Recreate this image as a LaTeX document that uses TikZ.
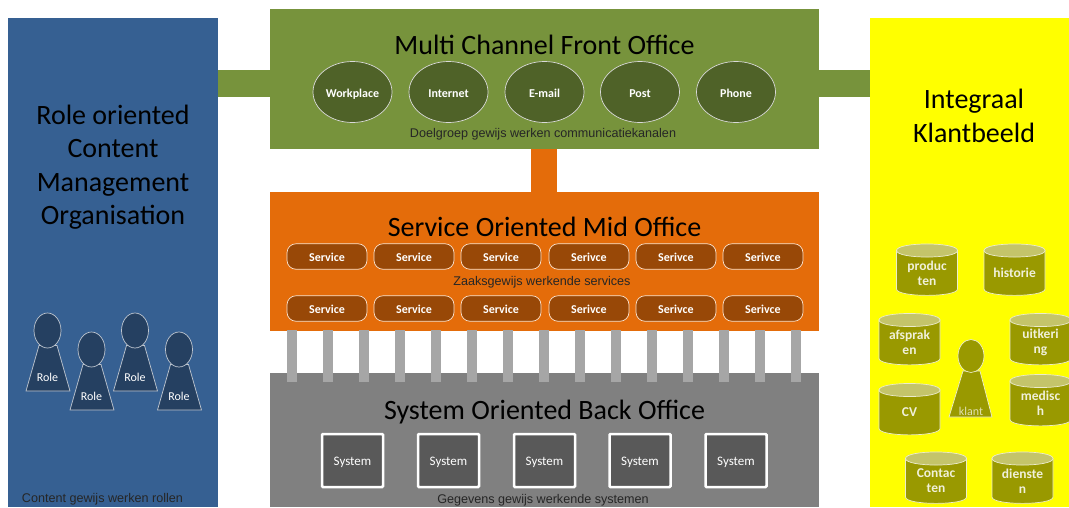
\documentclass[tikz,border=0pt]{standalone}
\usepackage{fontspec}
\setmainfont{Carlito}
\newfontfamily\capfont{Liberation Sans}
\usetikzlibrary{shapes.geometric}
\definecolor{blueP}{HTML}{366092}
\definecolor{greenP}{HTML}{77933C}
\definecolor{greenD}{HTML}{4F6228}
\definecolor{orangeP}{HTML}{E46C0A}
\definecolor{orangeD}{HTML}{984807}
\definecolor{greyP}{HTML}{808080}
\definecolor{greyD}{HTML}{595959}
\definecolor{greyB}{HTML}{A6A6A6}
\definecolor{navy}{HTML}{254061}
\definecolor{olive}{HTML}{999900}
\definecolor{oliveL}{HTML}{C4C46A}
\definecolor{yellowP}{HTML}{FFFF00}
\tikzset{
  x=1pt,y=-1pt,
  title/.style={font=\fontsize{28}{33.5}\selectfont,text=black,align=center,inner sep=0},
  caption/.style={font=\capfont\fontsize{12.6}{14}\selectfont,text=black!85,inner sep=0},
  small/.style={font=\fontsize{12}{14}\selectfont\bfseries,text=white,inner sep=0,text height=12,text depth=2},
  channel/.style={ellipse,draw=white!85!black,line width=.7pt,fill=greenD,minimum width=79,minimum height=61,small},
  servicebox/.style={rounded corners=9pt,rectangle,draw=white!80!orangeP,line width=.7pt,fill=orangeD,minimum width=80,minimum height=25.5,small},
  systembox/.style={rectangle,rounded corners=1pt,draw=white,line width=2.5pt,fill=greyD,minimum width=61,minimum height=53,inner sep=0,font=\fontsize{13}{15}\selectfont,text=white,text height=12,text depth=2},
  storetext/.style={inner sep=0,align=center,font=\fontsize{13.5}{15}\selectfont\bfseries,text=white!85!olive},
  bar/.style={line width=#1,draw=greyB}
}
% #1 name, #2 x, #3 y of head centre, #4 label dy, #5 fill, #6 line, #7 text colour
\newcommand{\pawn}[7]{%
  \draw[draw=#6,fill=#5,line width=.7pt] (#2-8.5,#3+15) -- (#2-21.5,#3+60.5) -- (#2+22.5,#3+60.5) -- (#2+9.5,#3+15) -- cycle;
  \node[ellipse,draw=#6,line width=.7pt,fill=#5,minimum width=27,minimum height=35,inner sep=0] (#1) at (#2,#3) {};
  \node[font=\fontsize{12}{14}\selectfont,text=#7,inner sep=0] (#1l) at (#2,#3+#4) {Role};
}
% #1 name, #2 centre x, #3 top y, #4 label
\newcommand{\storeitem}[4]{%
  \draw[draw=white!80!olive,fill=olive,line width=.7pt] (#2-30.5,#3+6.5) -- (#2-30.5,#3+45) .. controls (#2-30.5,#3+53.5) and (#2+30.5,#3+53.5) .. (#2+30.5,#3+45) -- (#2+30.5,#3+6.5) -- cycle;
  \draw[draw=white!80!olive,fill=oliveL,line width=.7pt] (#2-30.5,#3+6.5) .. controls (#2-30.5,#3-2.2) and (#2+30.5,#3-2.2) .. (#2+30.5,#3+6.5) .. controls (#2+30.5,#3+15.2) and (#2-30.5,#3+15.2) .. (#2-30.5,#3+6.5) -- cycle;
  \node[storetext] (#1) at (#2,#3+29) {#4};
}
\begin{document}
\begin{tikzpicture}
\useasboundingbox (0,0) rectangle (1069,507);
\clip (0,0) rectangle (1069,507);
% panels
\fill[blueP] (8,18) rectangle (218,507);
\coordinate (leftE) at (218,83.5);
\fill[yellowP] (870,18) rectangle (1069,507);
\coordinate (rightW) at (870,83.5);
\fill[greenP] (270,9) rectangle (819,149);
\fill[orangeP] (270,192) rectangle (819,331);
\fill[greyP] (270,373) rectangle (819,507);
\coordinate (frontW) at (270,83.5);
\coordinate (frontE) at (819,83.5);
\coordinate (frontS) at (544,149);
\coordinate (midN) at (544,192);
% connectors
\draw[greenP,line width=27pt] (leftE) -- (frontW);
\draw[greenP,line width=27pt] (frontE) -- (rightW);
\draw[orangeP,line width=26pt] (frontS) -- (midN);
\foreach \i in {0,...,14}{
  \coordinate (mb\i) at (292+36*\i,330);
  \coordinate (bb\i) at (292+36*\i,382);
  \draw[bar=10pt] (mb\i) -- (bb\i);
}
% titles
\node[title] (t1) at (544.5,45) {Multi Channel Front Office};
\node[title] (t2) at (544.5,226.5) {Service Oriented Mid Office};
\node[title] (t3) at (544.5,412) {System Oriented Back Office};
\node[title] (t4) at (113,167) {Role oriented\\Content\\Management\\Organisation};
\node[title] (t5) at (974,116) {Integraal\\Klantbeeld};
% channels
\foreach \n/\x/\l in {c1/352.5/Workplace,c2/448.5/Internet,c3/544.5/E-mail,c4/640/Post,c5/736/Phone}
  \node[channel] (\n) at (\x,92) {\l};
\node[caption] (cap1) at (543,134.5) {Doelgroep gewijs werken communicatiekanalen};
% services
\foreach \n/\x/\l in {1/327/Service,2/414/Service,3/501/Service,4/589/Serivce,5/676/Serivce,6/763/Serivce}{
  \node[servicebox] (sa\n) at (\x,256.5) {\l};
  \node[servicebox] (sb\n) at (\x,308.5) {\l};
}
\node[caption] (cap2) at (542,282.5) {Zaaksgewijs werkende services};
% systems
\foreach \n/\x in {1/352.5,2/448.5,3/544.5,4/640,5/736}
  \node[systembox] (y\n) at (\x,460.5) {System};
\node[caption] (cap3) at (543,500) {Gegevens gewijs werkende systemen};
\node[caption] (cap4) at (102.5,499.5) {Content gewijs werken rollen};
% people
\pawn{p1}{47.5}{330.5}{46.5}{navy}{white!70!navy}{white}
\pawn{p2}{91.5}{349.5}{46.5}{navy}{white!70!navy}{white}
\pawn{p3}{135}{330.5}{46.5}{navy}{white!70!navy}{white}
\pawn{p4}{179}{349.5}{46.5}{navy}{white!70!navy}{white}
% stores
\storeitem{d1}{927}{244}{produc\\ten}
\storeitem{d2}{1014.5}{244}{historie}
\storeitem{d3}{909.5}{313.5}{afsprak\\en}
\storeitem{d4}{1040.5}{313.5}{uitkeri\\ng}
\storeitem{d5}{1040.5}{374.5}{medisc\\h}
\storeitem{d6}{909.5}{383.5}{CV}
\storeitem{d7}{936}{452}{Contac\\ten}
\storeitem{d8}{1022.5}{452}{dienste\\n}
% klant
\draw[draw=white!80!olive,fill=olive,line width=.7pt] (963,371) -- (949,417) -- (992,417) -- (980,371) -- cycle;
\node[ellipse,draw=white!80!olive,line width=.7pt,fill=olive,minimum width=26,minimum height=33,inner sep=0] (kh) at (971,356) {};
\node[font=\fontsize{12}{14}\selectfont,text=white!70!olive,inner sep=0] (kl) at (971,411) {klant};
\end{tikzpicture}
\end{document}
